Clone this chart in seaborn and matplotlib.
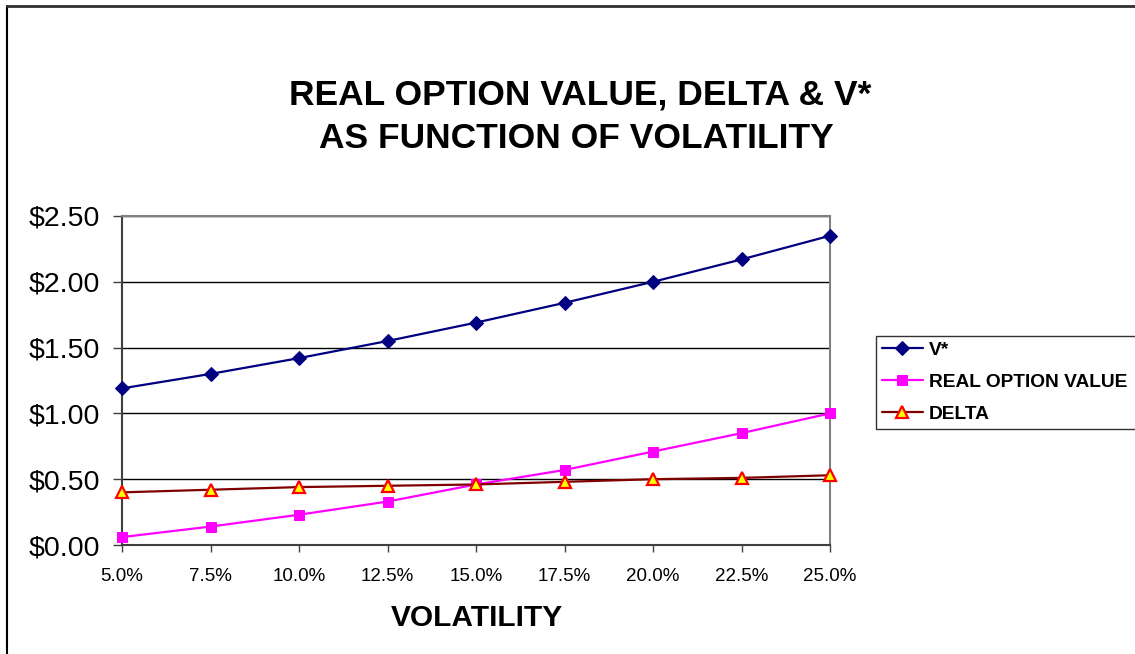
import matplotlib
matplotlib.use("Agg")
import matplotlib.pyplot as plt
import seaborn as sns
import numpy as np
import pandas as pd
from matplotlib.lines import Line2D
from matplotlib.ticker import FuncFormatter

volatility = [0.05, 0.075, 0.10, 0.125, 0.15, 0.175, 0.20, 0.225, 0.25]
tick_labels = ["5.0%", "7.5%", "10.0%", "12.5%", "15.0%", "17.5%", "20.0%", "22.5%", "25.0%"]
v_star = [1.19, 1.30, 1.42, 1.55, 1.69, 1.84, 2.00, 2.17, 2.35]
real_option_value = [0.06, 0.14, 0.23, 0.33, 0.46, 0.57, 0.71, 0.85, 1.00]
delta = [0.40, 0.42, 0.44, 0.45, 0.46, 0.48, 0.50, 0.51, 0.53]

sns.set_theme(style="white")
plt.rcParams['font.family'] = ['Liberation Sans', 'DejaVu Sans']
plt.rcParams.update({"text.color": "black", "xtick.color": "black",
                     "ytick.color": "black", "axes.labelcolor": "black"})

W, H = 1135, 654
fig = plt.figure(figsize=(W / 100, H / 100), dpi=100)
ax = fig.add_axes([122 / W, 1 - 545 / H, 708 / W, 329 / H])

df = pd.DataFrame({"vol": volatility, "V*": v_star,
                   "REAL OPTION VALUE": real_option_value, "DELTA": delta})

sns.lineplot(data=df, x="vol", y="V*", ax=ax, color="#000080", lw=1.6,
             marker="D", markersize=8, markerfacecolor="#000080",
             markeredgecolor="#000080", label="V*", clip_on=False, zorder=5)
sns.lineplot(data=df, x="vol", y="REAL OPTION VALUE", ax=ax, color="#FF00FF", lw=1.6,
             marker="s", markersize=8.5, markerfacecolor="#FF00FF",
             markeredgecolor="#FF00FF", label="REAL OPTION VALUE", clip_on=False, zorder=4)
sns.lineplot(data=df, x="vol", y="DELTA", ax=ax, color="#800000", lw=1.6,
             marker="^", markersize=11, markerfacecolor="#FFFF00",
             markeredgecolor="#FF0000", markeredgewidth=1.6, label="DELTA",
             clip_on=False, zorder=6)

ax.set_xlim(0.05, 0.25)
ax.set_ylim(0, 2.5)
ax.set_xticks(volatility)
ax.set_xticklabels(tick_labels, fontsize=13.5)
ax.set_yticks(np.arange(0, 2.51, 0.5))
ax.yaxis.set_major_formatter(FuncFormatter(lambda v, p: f"${v:.2f}"))
ax.tick_params(axis="y", labelsize=20.5, direction="out", length=6.5, width=1,
               color="#404040", left=True, pad=9)
ax.tick_params(axis="x", direction="out", length=5, width=1, color="#404040",
               bottom=True, pad=11.5)
ax.grid(axis="y", color="black", lw=1)
ax.grid(axis="x", visible=False)
for s in ["top", "right"]:
    ax.spines[s].set_color("#808080")
    ax.spines[s].set_linewidth(1.5)
for s in ["left", "bottom"]:
    ax.spines[s].set_color("#404040")
    ax.spines[s].set_linewidth(1.5)
ax.set_ylabel("")
ax.set_xlabel("")

fig.text(580.5 / W, 1 - 105 / H, "REAL OPTION VALUE, DELTA & V*", ha="center", va="baseline",
         fontsize=25.5, fontweight="bold")
fig.text(576 / W, 1 - 148 / H, "AS FUNCTION OF VOLATILITY", ha="center", va="baseline",
         fontsize=25.5, fontweight="bold")
fig.text(476.5 / W, 1 - 626 / H, "VOLATILITY", ha="center", va="baseline",
         fontsize=21.5, fontweight="bold")

if ax.legend_:
    ax.legend_.remove()
handles, labels = ax.get_legend_handles_labels()
for h in handles:
    h.set_markersize(h.get_markersize() * 0.85)
leg = fig.legend(handles, labels, loc="upper left", mode="expand",
                 bbox_to_anchor=(876 / W, 1 - 425 / H, 300 / W, 89 / H),
                 bbox_transform=fig.transFigure,
                 frameon=True, fancybox=False, borderaxespad=0, handlelength=2.15,
                 prop={"weight": "bold", "size": 13.8}, labelspacing=0.75,
                 borderpad=0.3, handletextpad=0.3)
leg.get_frame().set_edgecolor("black")
leg.get_frame().set_linewidth(1)

fig.add_artist(Line2D([7 / W, 7 / W], [0, 1 - 6 / H], transform=fig.transFigure,
                      color="black", lw=1.5))
fig.add_artist(Line2D([7 / W, 1], [1 - 6 / H, 1 - 6 / H], transform=fig.transFigure,
                      color="#303030", lw=2))

fig.savefig("out.png", dpi=100)
